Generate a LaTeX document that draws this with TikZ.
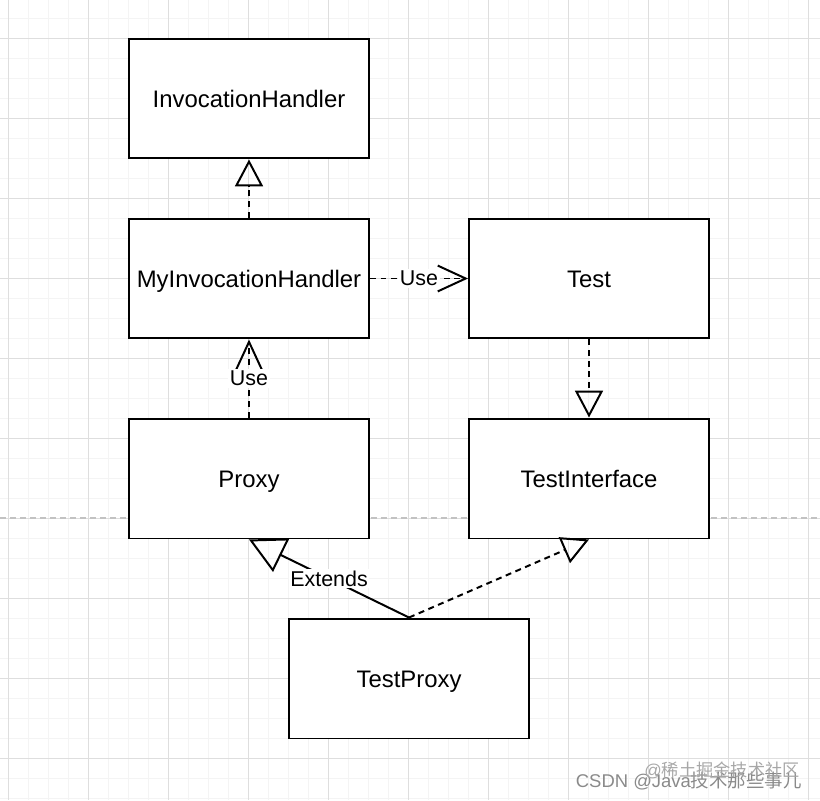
\documentclass[tikz,border=0pt]{standalone}
\usepackage{fontspec}
\setmainfont{Liberation Sans}
\newfontfamily\cjk{Noto Sans CJK SC}
\usepackage{tikz}
\usetikzlibrary{arrows.meta}
\definecolor{gridminor}{HTML}{F4F4F4}
\definecolor{gridmajor}{HTML}{DEDEDE}
\definecolor{pagebreak}{HTML}{C2C2C2}
\definecolor{wmgray}{HTML}{8A8A8A}

\tikzset{
  classbox/.style={draw, line width=1.13pt, fill=white, minimum width=4.8cm,
    minimum height=2.4cm, inner sep=0pt, text height=9.75pt, text depth=0pt,
    font=\fontsize{13.6pt}{16pt}\selectfont},
  dep/.style={line width=1.13pt, dash pattern=on 3.4pt off 2.6pt},
  edgelabel/.style={fill=white, inner sep=1pt, font=\fontsize{12.2pt}{14pt}\selectfont},
  realize/.style={-{Triangle[open, length=15.3pt, width=15.9pt]}},
  usearrow/.style={-{Straight Barb[length=15.9pt, width=14.7pt]}},
}

\begin{document}
\begin{tikzpicture}[x=0.02cm, y=-0.02cm]
  \useasboundingbox (0,0) rectangle (820,800);

  % Raster
  \foreach \x in {8,28,...,808} \draw[gridminor, line width=0.5pt] (\x,0) -- (\x,800);
  \foreach \y in {18,38,...,798} \draw[gridminor, line width=0.5pt] (0,\y) -- (820,\y);
  \foreach \x in {8,88,...,808} \draw[gridmajor, line width=0.5pt] (\x,0) -- (\x,800);
  \foreach \y in {38,118,...,758} \draw[gridmajor, line width=0.5pt] (0,\y) -- (820,\y);

  % Seitenumbruch
  \draw[pagebreak, line width=0.6pt, dash pattern=on 3.4pt off 2.3pt] (0,518) -- (820,518);

  % Klassen
  \node[classbox] (ih) at (249,98.5) {InvocationHandler};
  \node[classbox] (mih) at (249,278.5) {MyInvocationHandler};
  \node[classbox] (test) at (589,278.5) {Test};
  \node[classbox] (proxy) at (249,478.5) {Proxy};
  \node[classbox] (tif) at (589,478.5) {TestInterface};
  \node[classbox] (tproxy) at (409,678.5) {TestProxy};

  % Beziehungen
  \draw[dep, realize] (mih) -- (ih);
  \draw[dep, usearrow] (mih) -- node[edgelabel] {Use} (test);
  \draw[dep, usearrow] (proxy) -- node[edgelabel] {Use} (mih);
  \draw[dep, realize] (test) -- (tif);
  \draw[line width=1.13pt, -{Triangle[open, length=20.4pt, width=21pt]}]
    (tproxy.north) -- node[edgelabel] {Extends} (proxy.south);
  \draw[dep, realize] (tproxy.north) -- (tif.south);

  % Wasserzeichen
  \node[anchor=base east, text=wmgray, inner sep=0pt, font=\fontsize{10.5pt}{12pt}\selectfont]
    (wmcsdn) at (802,787) {CSDN @Java{\cjk 技术那些事儿}};
  \node[anchor=base east, text=wmgray!75, inner sep=0pt, font=\fontsize{9.8pt}{12pt}\selectfont]
    (wmjj) at (800,776) {@{\cjk 稀土掘金技术社区}};
\end{tikzpicture}
\end{document}
